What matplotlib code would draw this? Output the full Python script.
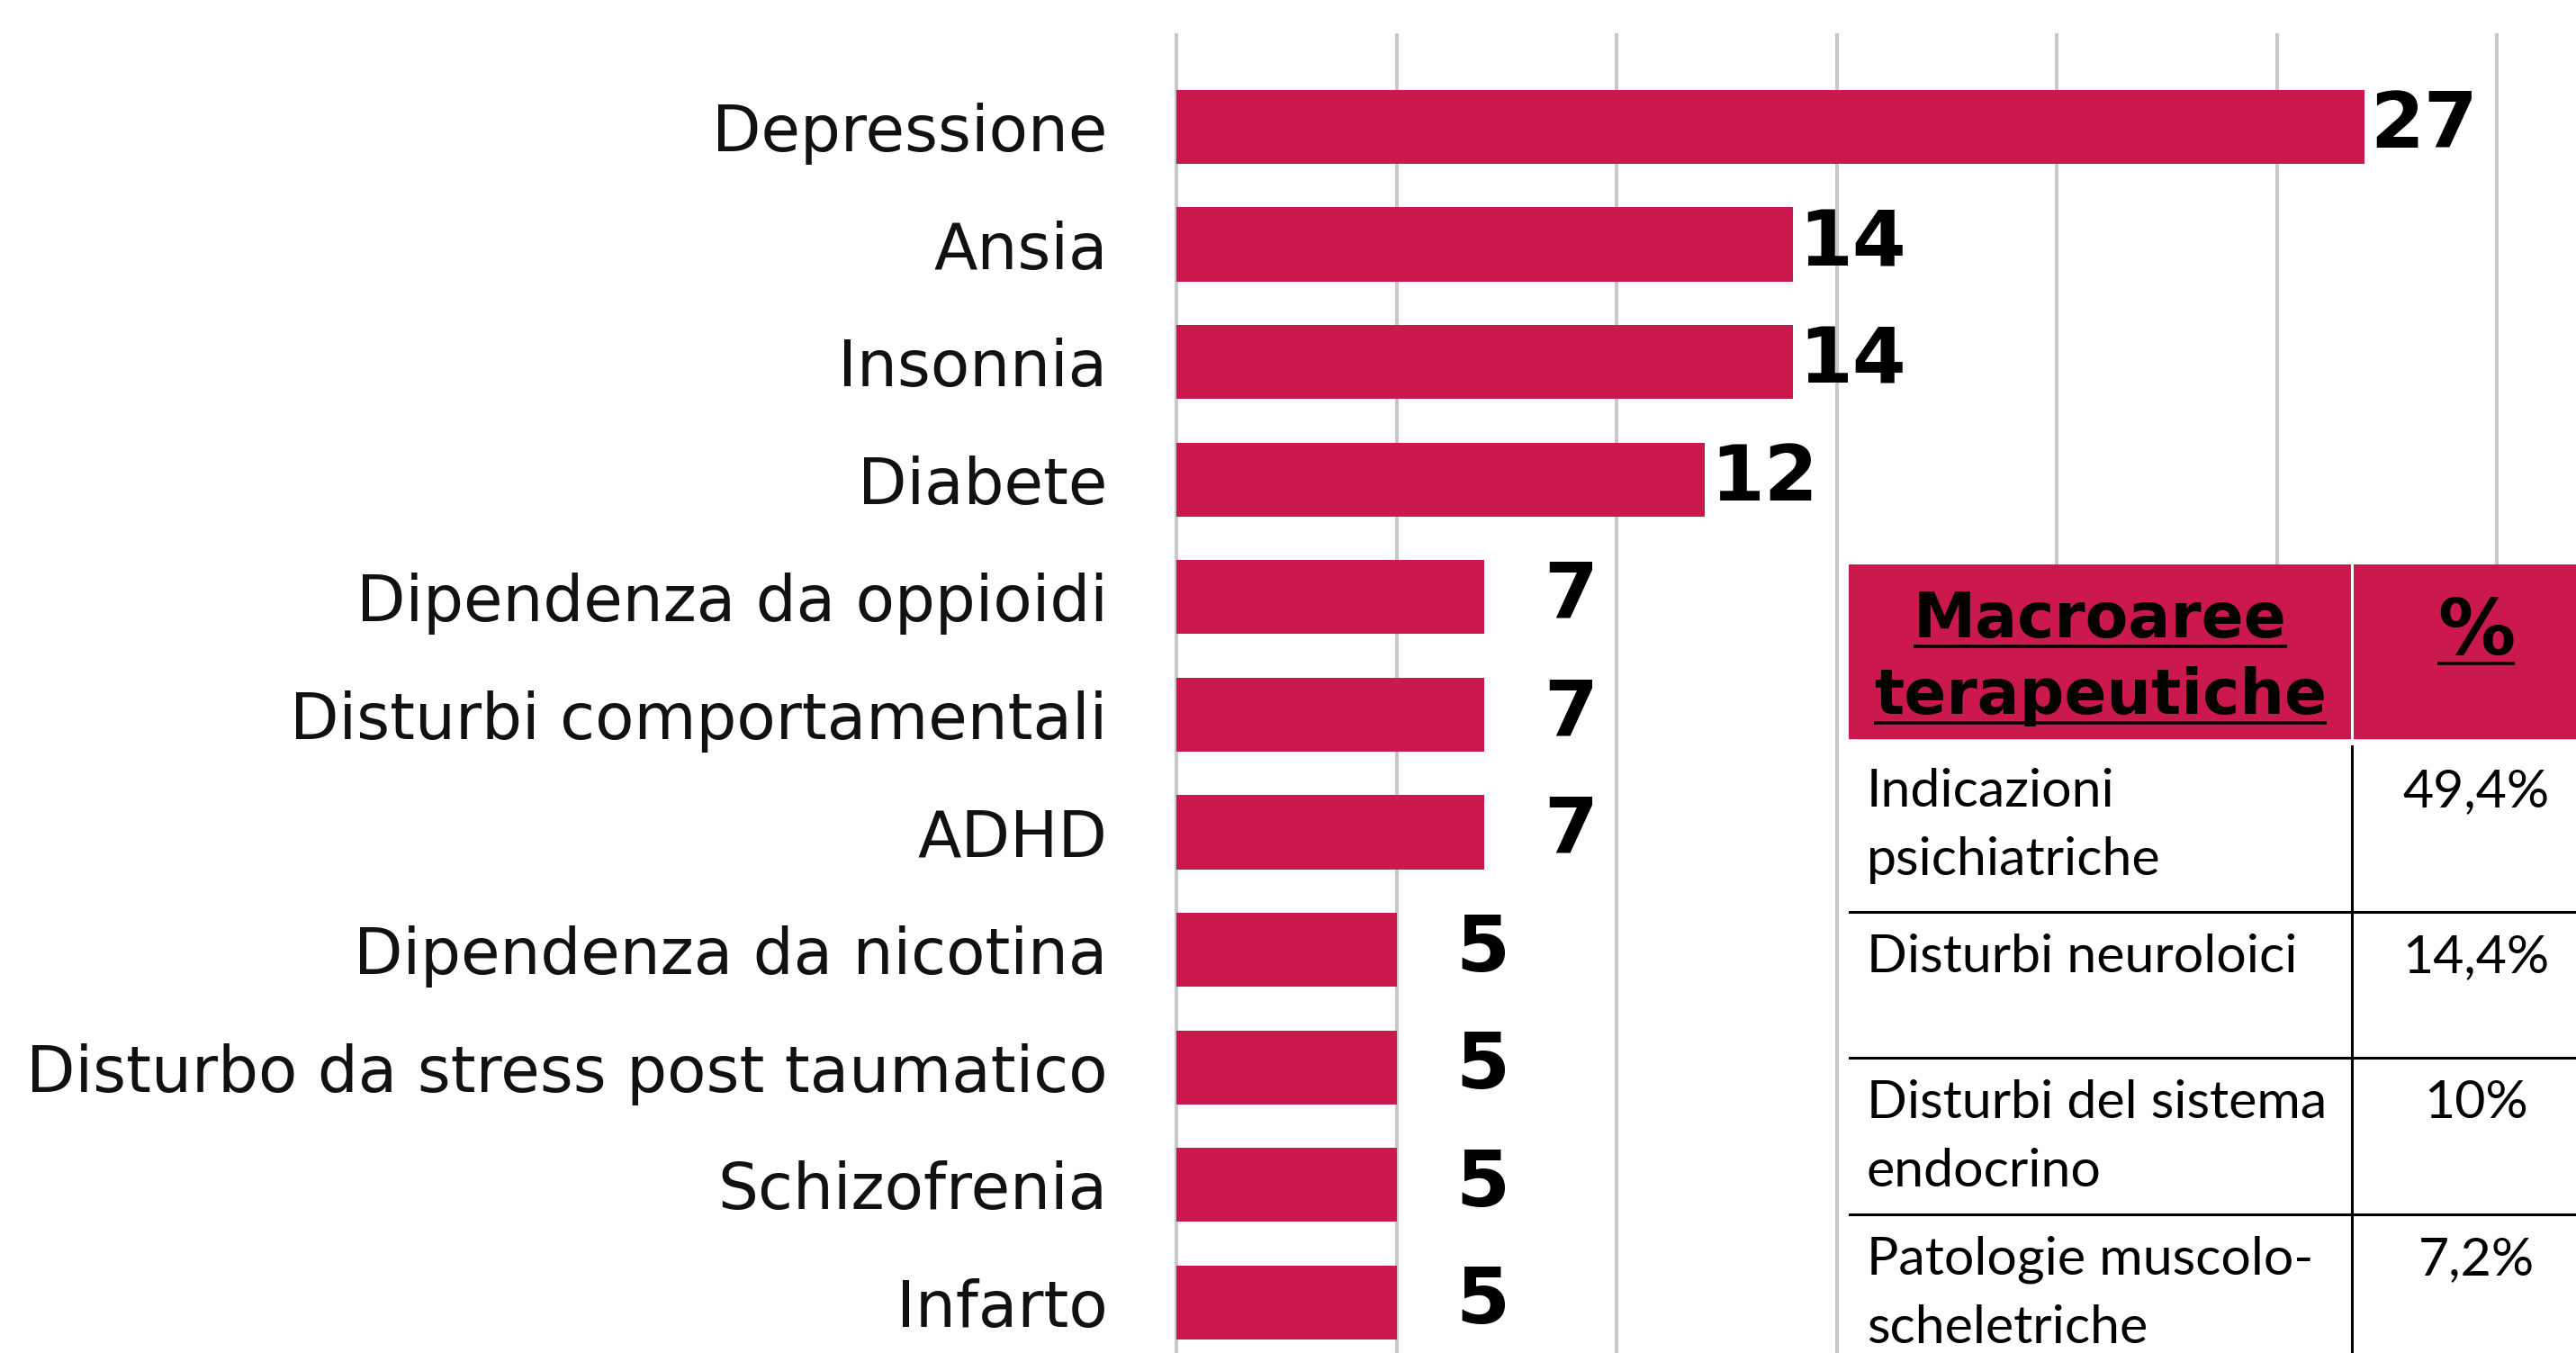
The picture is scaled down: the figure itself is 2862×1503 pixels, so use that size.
import numpy as np
import matplotlib
matplotlib.use("Agg")
import matplotlib.pyplot as plt
from matplotlib.patches import Rectangle

conditions = ["Depressione", "Ansia", "Insonnia", "Diabete", "Dipendenza da oppioidi",
              "Disturbi comportamentali", "ADHD", "Dipendenza da nicotina",
              "Disturbo da stress post taumatico", "Schizofrenia", "Infarto"]
counts = [27, 14, 14, 12, 7, 7, 7, 5, 5, 5, 5]
grid_ticks = [0, 5, 10, 15, 20, 25, 30]

table_header = ["Macroaree\nterapeutiche", "%"]
areas = ["Indicazioni\npsichiatriche", "Disturbi neuroloici",
         "Disturbi del sistema\nendocrino", "Patologie muscolo-\nscheletriche"]
shares = ["49,4%", "14,4%", "10%", "7,2%"]

RED = "#cc194d"
W, H = 2862, 1503  # figure size in pixels

if __name__ == "__main__":
    fig = plt.figure(figsize=(W / 100, H / 100), dpi=100)

    # bar chart, 1 unit ~ 48.9 px
    unit = 48.9
    left_px = 1300
    ax = fig.add_axes([left_px / W, 0, 1 - left_px / W, (H - 37) / H])
    y = np.arange(len(counts))
    ax.barh(y, counts, height=0.63, color=RED, zorder=2)
    ax.set_xlim(-(1307 - left_px) / unit, (W - 1307) / unit)
    ax.set_ylim(10.43, -0.796)
    ax.set_xticks(grid_ticks)
    ax.set_axisbelow(True)
    ax.xaxis.grid(True, color="#c8c8c8", linewidth=2.9)
    ax.tick_params(axis="x", length=0, labelbottom=False)
    ax.tick_params(axis="y", length=0, pad=50)
    ax.set_yticks(y)
    ax.set_yticklabels(conditions, fontsize=51, color="#111111")
    for s in ax.spines.values():
        s.set_visible(False)

    for i, v in enumerate(counts):
        ax.annotate(str(v), (v, i), xytext=(126, 0), textcoords="offset pixels",
                    ha="right", va="center", fontsize=62, fontweight="bold")

    # table (local pixel coords, origin top-left at 2054, 627)
    tx0, ty0 = 2054, 627
    tax = fig.add_axes([tx0 / W, 0, (W - tx0) / W, (H - ty0) / H])
    tw, th = W - tx0, H - ty0
    tax.set_xlim(0, tw)
    tax.set_ylim(th, 0)
    tax.set_facecolor("white")
    tax.set_xticks([])
    tax.set_yticks([])
    for s in tax.spines.values():
        s.set_visible(False)

    header_h = 193
    col_x = 559
    tax.add_patch(Rectangle((0, 0), tw, header_h, color=RED, zorder=1))
    tax.plot([col_x, col_x], [0, header_h], color="white", lw=2.2, zorder=2)

    heads = []
    for j, line in enumerate(table_header[0].split("\n")):
        heads.append((tax.text(col_x / 2, 81 + 85 * j, line, ha="center", va="baseline",
                               fontsize=50, fontweight="bold", zorder=3), 81 + 85 * j))
    heads.append((tax.text(697, 100, table_header[1], ha="center", va="baseline",
                           fontsize=62, fontweight="bold", zorder=3), 100))

    row_tops = [202, 386, 548, 722]
    for yt in row_tops[1:]:
        tax.plot([0, tw], [yt, yt], color="black", lw=2.2, zorder=2)
    tax.plot([col_x, col_x], [row_tops[0], th], color="black", lw=2.2, zorder=2)

    for k, (area, share) in enumerate(zip(areas, shares)):
        base = row_tops[k] + 67
        for j, line in enumerate(area.split("\n")):
            tax.text(20, base + 76 * j, line, fontsize=42.5, family="Lato", va="baseline")
        tax.text(697, base, share, fontsize=42.5, family="Lato", ha="center", va="baseline")

    # underline header texts
    fig.canvas.draw()
    renderer = fig.canvas.get_renderer()
    inv = tax.transData.inverted()
    for t, base in heads:
        bb = t.get_window_extent(renderer)
        x0 = inv.transform((bb.x0, bb.y0))[0]
        x1 = inv.transform((bb.x1, bb.y0))[0]
        tax.plot([x0, x1], [base + 10, base + 10], color="black", lw=2.6,
                 solid_capstyle="butt", zorder=3)

    fig.savefig("out.png", dpi=100)
